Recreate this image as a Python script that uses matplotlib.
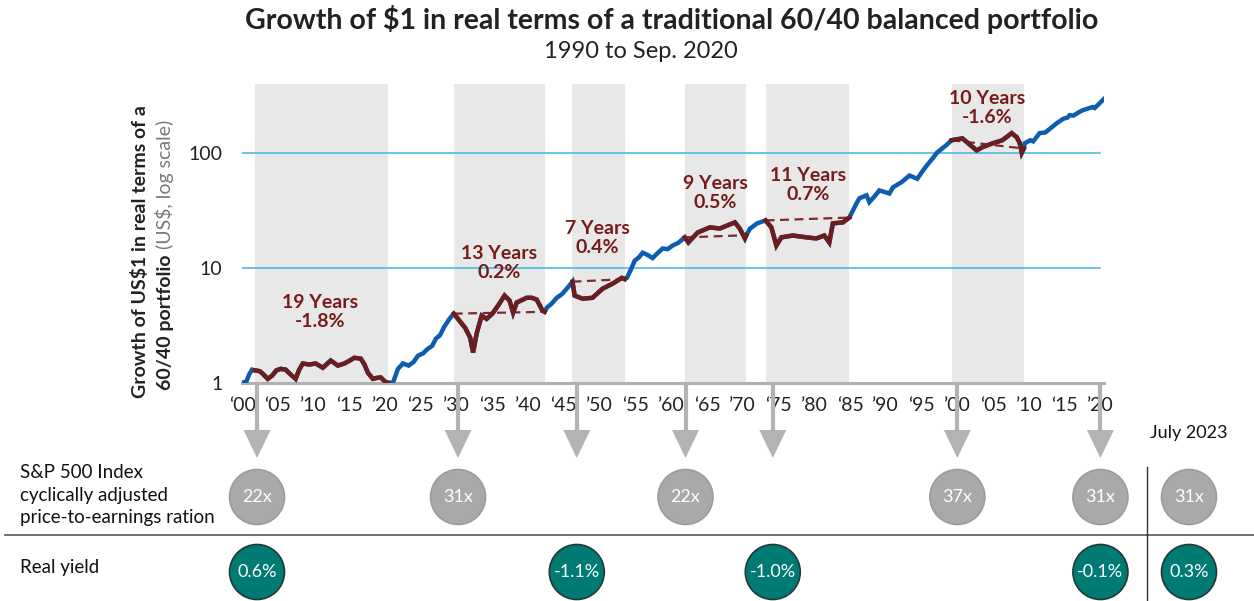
import numpy as np
import matplotlib
matplotlib.use('Agg')
import matplotlib.pyplot as plt
from matplotlib.patches import Circle, Polygon
from matplotlib.ticker import NullLocator, FixedLocator

plt.rcParams['font.family'] = ['Lato', 'DejaVu Sans']

# ---------------- data ----------------
years = [1900.0, 1900.6, 1901.0, 1901.4, 1901.8, 1902.5, 1903.0, 1903.6, 1904.2, 1904.8,
         1905.4, 1906.1, 1906.8, 1907.5, 1908.0, 1908.5, 1909.4, 1910.3, 1911.3, 1912.4,
         1913.4, 1914.3, 1915.0, 1915.7, 1916.6, 1917.1, 1917.6, 1918.3, 1918.8, 1919.4,
         1920.0, 1920.4, 1921.1, 1921.8, 1922.5, 1923.3, 1924.0, 1924.6, 1925.3, 1926.0,
         1926.6, 1927.1, 1927.7, 1928.2, 1929.0, 1929.6, 1930.2, 1931.2, 1931.9, 1932.3,
         1932.8, 1933.5, 1934.2, 1935.0, 1935.8, 1936.7, 1937.4, 1937.9, 1938.4, 1939.8,
         1940.5, 1941.2, 1942.0, 1942.3, 1942.6, 1943.3, 1944.0, 1944.7, 1945.4, 1946.2,
         1946.5, 1947.6, 1949.0, 1950.4, 1951.8, 1953.1, 1953.5, 1953.8, 1954.4, 1954.9,
         1955.5, 1956.0, 1956.7, 1957.4, 1958.1, 1958.8, 1959.5, 1960.2, 1961.0, 1961.9,
         1962.4, 1963.7, 1965.4, 1966.8, 1968.9, 1969.6, 1970.3, 1970.5, 1971.0, 1972.0,
         1973.2, 1974.0, 1974.7, 1975.4, 1977.0, 1978.9, 1980.3, 1981.4, 1982.1, 1982.6,
         1984.0, 1984.9, 1985.9, 1986.3, 1987.3, 1987.7, 1988.4, 1989.1, 1990.5, 1991.0,
         1992.2, 1993.3, 1994.4, 1995.0, 1995.7, 1996.4, 1997.2, 1998.4, 1999.2, 2000.7,
         2001.4, 2002.7, 2003.5, 2004.9, 2006.3, 2007.6, 2008.3, 2008.7, 2009.0, 2009.3,
         2009.4, 2010.2, 2010.6, 2011.5, 2012.3, 2013.0, 2013.9, 2014.8, 2015.4, 2015.7,
         2016.2, 2017.0, 2017.5, 2018.2, 2018.9, 2019.2, 2019.8, 2020.2, 2020.6]
values = [1.00, 1.02, 1.18, 1.30, 1.28, 1.26, 1.18, 1.08, 1.15, 1.28,
          1.32, 1.30, 1.18, 1.08, 1.30, 1.47, 1.44, 1.47, 1.35, 1.56,
          1.41, 1.47, 1.55, 1.65, 1.62, 1.45, 1.22, 1.08, 1.10, 1.11,
          1.02, 1.00, 1.00, 1.32, 1.47, 1.41, 1.52, 1.72, 1.80, 1.98,
          2.10, 2.42, 2.60, 3.02, 3.60, 4.00, 3.60, 3.00, 2.47, 1.83,
          2.68, 3.84, 3.60, 4.00, 4.70, 5.75, 5.20, 4.08, 5.00, 5.50,
          5.50, 5.30, 4.25, 4.15, 4.50, 4.90, 5.50, 5.90, 6.60, 7.60,
          5.75, 5.40, 5.50, 6.60, 7.30, 8.20, 8.00, 8.20, 9.80, 11.6,
          12.4, 13.6, 13.0, 12.2, 13.5, 14.8, 14.6, 15.7, 16.6, 18.5,
          16.7, 20.4, 22.6, 22.1, 25.0, 22.0, 18.1, 19.3, 22.0, 24.5,
          26.0, 22.6, 15.7, 18.5, 19.2, 18.5, 18.1, 19.2, 16.7, 24.5,
          25.0, 27.5, 36.6, 40.5, 43.0, 37.5, 42.0, 47.5, 44.6, 50.5,
          56.0, 64.0, 60.0, 68.0, 78.0, 88.0, 102.0, 117.0, 130.0, 135.0,
          124.0, 106.0, 113.0, 122.0, 130.0, 150.0, 138.0, 124.0, 101.0, 110.0,
          122.0, 130.0, 127.0, 150.0, 152.0, 165.0, 183.0, 200.0, 205.0, 215.0,
          213.0, 228.0, 237.0, 245.0, 253.0, 248.0, 270.0, 285.0, 302.0]

period_starts = [1901.8, 1929.6, 1946.2, 1961.9, 1973.2, 1999.2]
period_ends = [1920.4, 1942.3, 1953.5, 1970.5, 1984.9, 2009.3]
period_show_dash = [False, True, True, True, True, True]
period_labels = ['19 Years\n-1.8%', '13 Years\n0.2%', '7 Years\n0.4%',
                 '9 Years\n0.5%', '11 Years\n0.7%', '10 Years\n-1.6%']
label_x = [1910.9, 1936.0, 1949.7, 1966.2, 1979.1, 2004.2]
label_y = [4.13, 11.06, 18.3, 45.1, 52.9, 248.0]

xtick_years = list(range(1900, 2021, 5))
xtick_labels = [('\u2018' if (i == 0 or i % 2 == 1) else '\u2019') + f'{y % 100:02d}'
                for i, y in enumerate(xtick_years)]
ytick_values = [1, 10, 100]
ytick_labels = ['1', '10', '100']

arrow_years = [1902.1, 1930.2, 1946.8, 1962.0, 1974.2, 2000.0, 2020.0]
cape_years = [1902.1, 1930.2, 1962.0, 2000.0, 2020.0]
cape_labels = ['22x', '31x', '22x', '37x', '31x']
yield_years = [1902.1, 1946.8, 1974.2, 2020.0]
yield_labels = ['0.6%', '-1.1%', '-1.0%', '-0.1%']
current_label = 'July 2023'
cape_current = '31x'
yield_current = '0.3%'

# ---------------- styling ----------------
BLUE = '#0c5db0'
RED = '#6c1d1d'
RED_TXT = '#781a1a'
SHADE = '#e8e8e8'
GRID = '#41b4e5'
ARROW = '#b3b3b3'
GREY_C = '#a9a9a9'
TEAL = '#007b74'

W, H = 1254, 601
fig = plt.figure(figsize=(W / 100, H / 100), dpi=100)
ax = fig.add_axes([242 / W, 1 - 382.7 / H, (1104 - 242) / W, (382.7 - 84) / H])
ax.set_yscale('log')
ax.set_ylim(1, 402)
ax.set_xlim(1900, 2020.5)

for s, e in zip(period_starts, period_ends):
    ax.axvspan(s, e, color=SHADE, lw=0, zorder=0)

xfrac_end = (2020 - 1900) / (2020.5 - 1900)
for v in [10, 100]:
    ax.axhline(v, xmin=0, xmax=xfrac_end, color=GRID, lw=1.1, zorder=1)

yrs = np.array(years)
vals = np.array(values)
ax.plot(yrs, vals, color=BLUE, lw=3.2, zorder=3, solid_joinstyle='miter')
for s, e, dash in zip(period_starts, period_ends, period_show_dash):
    m = (yrs >= s - 1e-9) & (yrs <= e + 1e-9)
    ax.plot(yrs[m], vals[m], color=RED, lw=3.2, zorder=4, solid_joinstyle='miter')
    if dash:
        vs = np.exp(np.interp(s, yrs, np.log(vals)))
        ve = np.exp(np.interp(e, yrs, np.log(vals)))
        ax.plot([s, e], [vs, ve], color='#7a2a2a', lw=1.6, ls=(0, (4, 2.5)), zorder=3.5)

for t, x, y in zip(period_labels, label_x, label_y):
    ax.text(x, y, t, color=RED_TXT, fontsize=14, fontweight='bold', ha='center',
            va='center', linespacing=1.15, zorder=6)

for sp in ['top', 'right', 'left']:
    ax.spines[sp].set_visible(False)
ax.spines['bottom'].set_color('#b0b0b0')
ax.spines['bottom'].set_linewidth(2.2)
ax.yaxis.set_major_locator(FixedLocator(ytick_values))
ax.yaxis.set_minor_locator(NullLocator())
ax.set_yticklabels(ytick_labels)
ax.set_xticks(xtick_years)
ax.set_xticklabels(xtick_labels)
ax.tick_params(axis='y', length=0, pad=14, labelsize=14, labelcolor='#222222')
ax.tick_params(axis='x', length=0, pad=10, labelsize=14, labelcolor='#222222')
ax.patch.set_alpha(0)

# ---------------- overlay (pixel coordinates) ----------------
ov = fig.add_axes([0, 0, 1, 1])
ov.set_xlim(0, W)
ov.set_ylim(H, 0)
ov.axis('off')


def px(yr):
    return ax.transData.transform((yr, 1))[0]


fig.text(672 / W, 1 - 19 / H, 'Growth of $1 in real terms of a traditional 60/40 balanced portfolio',
         fontsize=20.5, fontweight='bold', ha='center', va='center', color='#222222')
fig.text(641 / W, 1 - 51 / H, '1990 to Sep. 2020', fontsize=17, ha='center', va='center',
         color='#222222')

ov.text(140, 252, 'Growth of US$1 in real terms of a', rotation=90, ha='center', va='center',
        fontsize=14, fontweight='bold', color='#222222')
ov.text(165, 254, '60/40 portfolio', rotation=90, ha='center', va='top',
        fontsize=14, fontweight='bold', color='#222222')
ov.text(165, 249, '(US$, log scale)', rotation=90, ha='center', va='bottom',
        fontsize=14, fontweight='normal', color='#7a7a7a')

for yr in arrow_years:
    x = px(yr)
    ov.plot([x, x], [384, 432], color=ARROW, lw=3, solid_capstyle='butt')
    ov.add_patch(Polygon([(x - 13.5, 430), (x + 13.5, 430), (x, 458)], closed=True,
                         facecolor=ARROW, edgecolor='none'))

R = 27.5
CAPE_Y, YIELD_Y = 497, 572
CUR_X = 1189


def bubble(x, y, label, fc, ec):
    ov.add_patch(Circle((x, y), R, facecolor=fc, edgecolor=ec, lw=1.2))
    ov.text(x, y, label, color='white', fontsize=13, ha='center', va='center')


for yr, lab in zip(cape_years, cape_labels):
    bubble(px(yr), CAPE_Y, lab, GREY_C, '#9c9c9c')
bubble(CUR_X, CAPE_Y, cape_current, GREY_C, '#9c9c9c')
for yr, lab in zip(yield_years, yield_labels):
    bubble(px(yr), YIELD_Y, lab, TEAL, '#243836')
bubble(CUR_X, YIELD_Y, yield_current, TEAL, '#243836')

ov.plot([5, W], [534.5, 534.5], color='#555555', lw=1.2)
ov.plot([1147, 1147], [467, H], color='#333333', lw=1.0)

for i, line in enumerate(['S&P 500 Index', 'cyclically adjusted', 'price-to-earnings ration']):
    ov.text(20, 472 + 23 * i, line, fontsize=13.5, ha='left', va='center', color='#111111')
ov.text(20, 568, 'Real yield', fontsize=13.5, ha='left', va='center', color='#111111')
ov.text(CUR_X, 433, current_label, fontsize=13, ha='center', va='center', color='#111111')

fig.savefig('out.png', dpi=100)
